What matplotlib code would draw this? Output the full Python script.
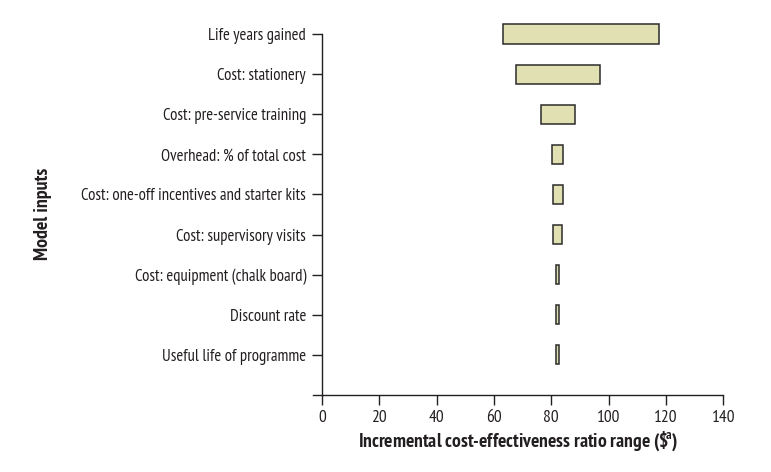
import matplotlib
matplotlib.use("Agg")
import matplotlib.pyplot as plt

FAM = ['PT Sans Narrow', 'Roboto Condensed', 'DejaVu Sans']
plt.rcParams['font.family'] = FAM
plt.rcParams['mathtext.fontset'] = 'custom'
plt.rcParams['mathtext.rm'] = 'PT Sans Narrow'
plt.rcParams['mathtext.bf'] = 'PT Sans Narrow:bold'

categories = ["Life years gained", "Cost: stationery", "Cost: pre-service training",
              "Overhead: % of total cost", "Cost: one-off incentives and starter kits",
              "Cost: supervisory visits", "Cost: equipment (chalk board)",
              "Discount rate", "Useful life of programme"]
low = [63.3, 67.6, 76.3, 80.1, 80.5, 80.5, 81.6, 81.6, 81.5]
high = [117.5, 96.9, 88.3, 84.0, 84.0, 83.6, 82.8, 82.8, 82.8]
xticks = [0, 20, 40, 60, 80, 100, 120, 140]

fig = plt.figure(figsize=(7.71, 4.72), dpi=100)
ax = fig.add_axes([0.4057, 0.1631, 0.5324, 0.928 - 0.1631])

n = len(categories)
ypos = [n - i for i in range(n)]
widths = [h - l for l, h in zip(low, high)]
ax.barh(ypos, widths, left=low, height=0.475, color="#e0e0b3",
        edgecolor="#2b2b2b", linewidth=1.1, clip_on=False, zorder=3)

ax.set_xlim(-3.2, 140)
ax.set_ylim(0, n)
ax.spines['left'].set_position(('data', 0))
ax.spines['right'].set_visible(False)
ax.spines['top'].set_visible(False)
for s in ['left', 'bottom']:
    ax.spines[s].set_color("#231f20")
    ax.spines[s].set_linewidth(1.0)

ax.set_yticks(ypos)
ax.set_yticklabels(categories, fontsize=12, color="#231f20")
ax.set_xticks(xticks)
ax.set_xticklabels([str(t) for t in xticks], fontsize=12.5, color="#231f20")
ax.tick_params(axis='both', direction='out', length=7.5, width=1.0, color="#231f20")
ax.tick_params(axis='y', pad=4)
ax.tick_params(axis='x', pad=3)

ax.set_xlabel("Incremental cost-effectiveness ratio range ($\\mathbf{\\$}\\!{}^{\\mathbf{a}}$)",
              fontsize=14, fontweight='bold', color="#231f20", labelpad=3)
fig.text(0.056, 0.547, "Model inputs", rotation=90, fontsize=14.3, fontweight='bold',
         color="#231f20", ha='center', va='center')

fig.savefig("out.png", dpi=100)
